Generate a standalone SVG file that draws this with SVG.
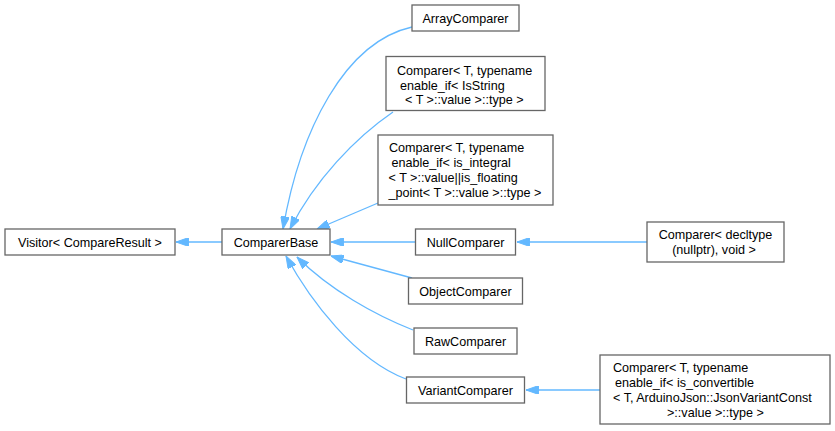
<svg xmlns="http://www.w3.org/2000/svg" width="835" height="431" viewBox="0 0 835 431">
<style>
.n rect{fill:#fff;stroke:#666;stroke-width:1.3}
.n text{font-family:"Liberation Sans",Arial,sans-serif;font-size:12.6px;fill:#000}
.c{text-anchor:middle}
.e path{fill:none;stroke:#63b8ff;stroke-width:1.3;marker-end:url(#ah)}
</style>
<defs>
<marker id="ah" viewBox="0 0 12.6 8.8" refX="12.6" refY="4.4" markerWidth="12.6" markerHeight="8.8" markerUnits="userSpaceOnUse" orient="auto">
<path d="M0,0 L12.6,4.4 L0,8.8 z" fill="#63b8ff" stroke="#63b8ff" stroke-width="1"/>
</marker>
</defs>
<rect width="835" height="431" fill="#fff"/>
<g id="edges" class="e">
<path d="M222,242 L176,242"/>
<path d="M412,27 C345,42 300,130 283,229"/>
<path d="M393,112 C355,138 315,180 290,229"/>
<path d="M378,203 L317,229"/>
<path d="M415,242 L331,242"/>
<path d="M412,278 L331,256"/>
<path d="M413,330 C375,315 330,290 297,257"/>
<path d="M406,379 C355,360 310,300 286,256"/>
<path d="M647,242 L517,242"/>
<path d="M600,390 L526,390"/>
</g>
<g id="visitor" class="n"><rect x="5" y="229" width="170" height="26"/><text class="c" x="90" y="246.5">Visitor&lt; CompareResult &gt;</text></g>
<g id="comparerbase" class="n"><rect x="222" y="229" width="108" height="26"/><text class="c" x="276" y="246.5">ComparerBase</text></g>
<g id="arraycomparer" class="n"><rect x="412" y="5" width="107" height="26"/><text class="c" x="465.5" y="22.5">ArrayComparer</text></g>
<g id="comparer_isstring" class="n"><rect x="386" y="56.5" width="159" height="54"/>
<text x="397" y="74.7">Comparer&lt; T, typename</text>
<text x="400" y="89.5">enable_if&lt; IsString</text>
<text x="405" y="104.3">&lt; T &gt;::value &gt;::type &gt;</text></g>
<g id="comparer_integral" class="n"><rect x="378" y="135" width="175" height="70"/>
<text x="389" y="152.4">Comparer&lt; T, typename</text>
<text x="391.5" y="167.2">enable_if&lt; is_integral</text>
<text x="388.5" y="182">&lt; T &gt;::value||is_floating</text>
<text x="388.5" y="196.8">_point&lt; T &gt;::value &gt;::type &gt;</text></g>
<g id="nullcomparer" class="n"><rect x="415.5" y="229" width="100" height="26"/><text class="c" x="465.5" y="246.5">NullComparer</text></g>
<g id="objectcomparer" class="n"><rect x="408.5" y="278" width="114" height="26"/><text class="c" x="465.5" y="295.5">ObjectComparer</text></g>
<g id="rawcomparer" class="n"><rect x="414" y="328" width="103" height="26"/><text class="c" x="465.5" y="345.5">RawComparer</text></g>
<g id="variantcomparer" class="n"><rect x="406.5" y="377" width="118" height="26"/><text class="c" x="465.5" y="394.5">VariantComparer</text></g>
<g id="comparer_nullptr" class="n"><rect x="647" y="222" width="137" height="40"/>
<text class="c" x="715.5" y="239.3">Comparer&lt; decltype</text>
<text class="c" x="714" y="254">(nullptr), void &gt;</text></g>
<g id="comparer_convertible" class="n"><rect x="600" y="355" width="230" height="69"/>
<text x="613" y="372.3">Comparer&lt; T, typename</text>
<text x="615" y="387.1">enable_if&lt; is_convertible</text>
<text x="613" y="401.9">&lt; T, ArduinoJson::JsonVariantConst</text>
<text x="667" y="416.7">&gt;::value &gt;::type &gt;</text></g>
</svg>
